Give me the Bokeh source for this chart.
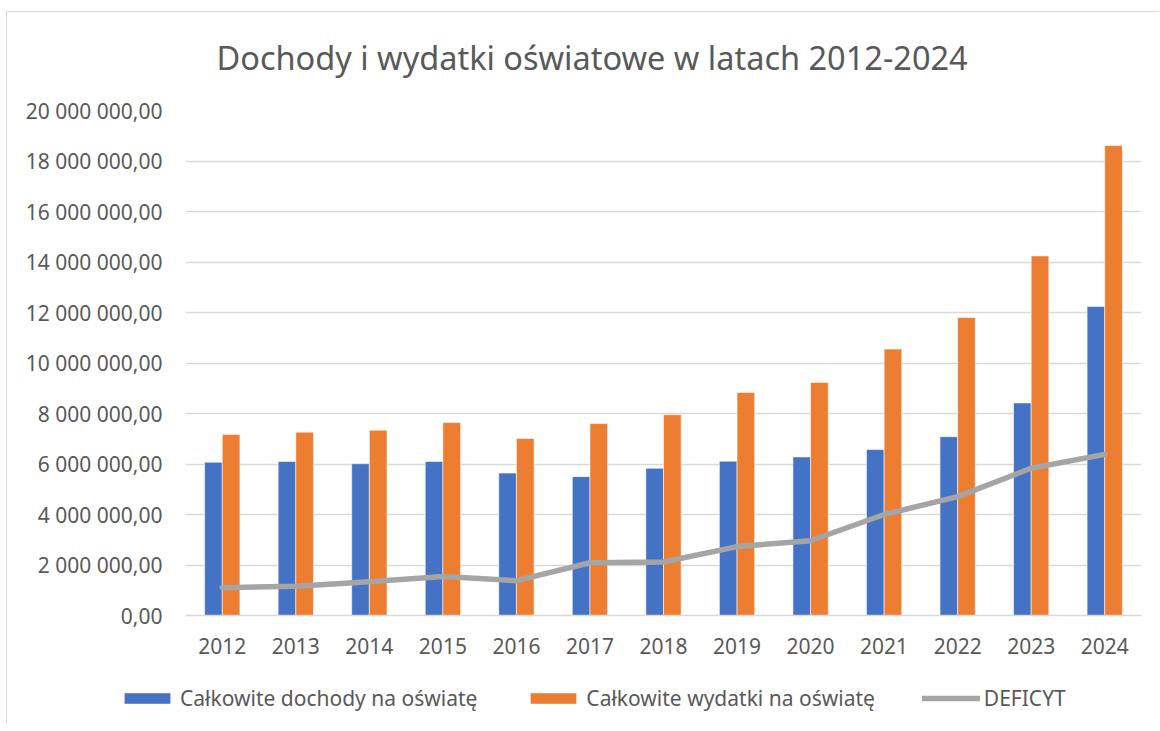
from bokeh.plotting import figure
from bokeh.models import Range1d, FactorRange, Legend, LegendItem, ColumnDataSource, Label
from bokeh.layouts import column
from bokeh.transform import dodge
from bokeh.embed import file_html
from bokeh.resources import INLINE

# ---- data ----
years = ["2012", "2013", "2014", "2015", "2016", "2017", "2018",
         "2019", "2020", "2021", "2022", "2023", "2024"]
dochody = [6070000, 6100000, 6010000, 6100000, 5640000, 5500000, 5830000,
           6110000, 6280000, 6570000, 7080000, 8420000, 12240000]
wydatki = [7170000, 7260000, 7340000, 7640000, 7010000, 7600000, 7950000,
           8830000, 9230000, 10550000, 11800000, 14240000, 18610000]
deficyt = [1100000, 1160000, 1340000, 1540000, 1380000, 2090000, 2120000,
           2730000, 2960000, 4000000, 4710000, 5830000, 6380000]
y_ticks = [0, 2000000, 4000000, 6000000, 8000000, 10000000, 12000000,
           14000000, 16000000, 18000000, 20000000]
y_tick_labels = ["0,00", "2 000 000,00", "4 000 000,00", "6 000 000,00",
                 "8 000 000,00", "10 000 000,00", "12 000 000,00",
                 "14 000 000,00", "16 000 000,00", "18 000 000,00",
                 "20 000 000,00"]
title_text = "Dochody i wydatki oświatowe w latach 2012-2024"
series_names = ["Całkowite dochody na oświatę", "Całkowite wydatki na oświatę", "DEFICYT"]

BLUE = "#4472C4"
ORANGE = "#ED7D31"
GREY = "#A5A5A5"
TEXT = "#595959"
GRID = "#D9D9D9"
FONT = "Noto Sans"
W = 1152


def no_align(f):
    if "frame_align" in f.properties():
        f.frame_align = False
    return f


def strip(h, **kw):
    f = figure(width=W, height=h, x_axis_type=None, y_axis_type=None, min_border=0,
               output_backend="svg", toolbar_location=None, **kw)
    f.title = None
    f.grid.visible = False
    f.outline_line_color = None
    f.background_fill_color = "white"
    f.border_fill_color = "white"
    return no_align(f)


src = ColumnDataSource(dict(years=years, dochody=dochody, wydatki=wydatki, deficyt=deficyt))

# ---- title strip ----
pt = strip(78, x_range=Range1d(0, 1), y_range=Range1d(0, 1))
pt.add_layout(Label(x=209, y=33, x_units="screen", y_units="screen", text=title_text,
                    text_font=FONT, text_font_size="32.5px", text_color=TEXT,
                    text_baseline="alphabetic", text_align="left"))

# ---- main chart ----
p = figure(
    x_range=FactorRange(*years, range_padding=0),
    y_range=Range1d(0, 20000000),
    frame_width=956, frame_height=505,
    min_border_left=178, min_border_right=18,
    min_border_top=20, min_border_bottom=55,
    output_backend="svg", toolbar_location=None,
)
no_align(p)
p.title = None
p.outline_line_color = None
p.background_fill_color = "white"
p.border_fill_color = "white"

p.xgrid.grid_line_color = None
p.ygrid.grid_line_color = GRID
p.ygrid.grid_line_width = 1.3
p.yaxis.ticker = y_ticks
p.yaxis.major_label_overrides = {t: l for t, l in zip(y_ticks, y_tick_labels)}
p.yaxis.axis_line_color = None
p.yaxis.major_tick_line_color = None
p.yaxis.minor_tick_line_color = None
p.yaxis.major_tick_in = 0
p.yaxis.major_tick_out = 0
p.yaxis.major_label_standoff = 23
p.yaxis.major_label_text_font = FONT
p.yaxis.major_label_text_font_size = "21px"
p.yaxis.major_label_text_color = TEXT

p.xaxis.axis_line_color = GRID
p.xaxis.axis_line_width = 1.3
p.xaxis.major_tick_line_color = None
p.xaxis.minor_tick_line_color = None
p.xaxis.major_tick_in = 0
p.xaxis.major_tick_out = 0
p.xaxis.major_label_standoff = 22
p.xaxis.major_label_text_font = FONT
p.xaxis.major_label_text_font_size = "21px"
p.xaxis.major_label_text_color = TEXT

bar_style = dict(line_color="white", line_width=0.8, line_alpha=0.7)
p.vbar(x=dodge("years", -0.12, range=p.x_range), top="dochody", width=0.24,
       source=src, fill_color=BLUE, **bar_style)
p.vbar(x=dodge("years", 0.12, range=p.x_range), top="wydatki", width=0.24,
       source=src, fill_color=ORANGE, **bar_style)
line_style = dict(line_color=GREY, line_width=5.5, line_cap="round", line_join="round")
p.line(x="years", y="deficyt", source=src, **line_style)

# ---- legend strip: same series, shifted wholly outside the strip's window,
#      so that only the legend swatches show ----
pl = strip(53, x_range=FactorRange(*years), y_range=Range1d(0, 20000000))
k1 = pl.vbar(x=dodge("years", 100, range=pl.x_range), top="dochody", width=0.24,
             source=src, fill_color=BLUE, **bar_style)
k2 = pl.vbar(x=dodge("years", 100, range=pl.x_range), top="wydatki", width=0.24,
             source=src, fill_color=ORANGE, **bar_style)
k3 = pl.line(x=dodge("years", 100, range=pl.x_range), y="deficyt", source=src, **line_style)
lg = Legend(items=[LegendItem(label=n, renderers=[r]) for n, r in zip(series_names, [k1, k2, k3])],
            location=(111, 11), orientation="horizontal",
            padding=0, margin=0, spacing=47,
            glyph_width=58, glyph_height=14, label_standoff=4,
            label_text_font=FONT, label_text_font_size="21px",
            label_text_color=TEXT,
            border_line_color=None, background_fill_alpha=0)
pl.add_layout(lg, "center")

layout = column(pt, p, pl, spacing=0)
layout.styles = {"margin-left": "6px", "margin-top": "11px",
                 "border-left": f"1px solid {GRID}", "border-top": f"1px solid {GRID}"}

open("out.html", "w").write(file_html(layout, INLINE))
